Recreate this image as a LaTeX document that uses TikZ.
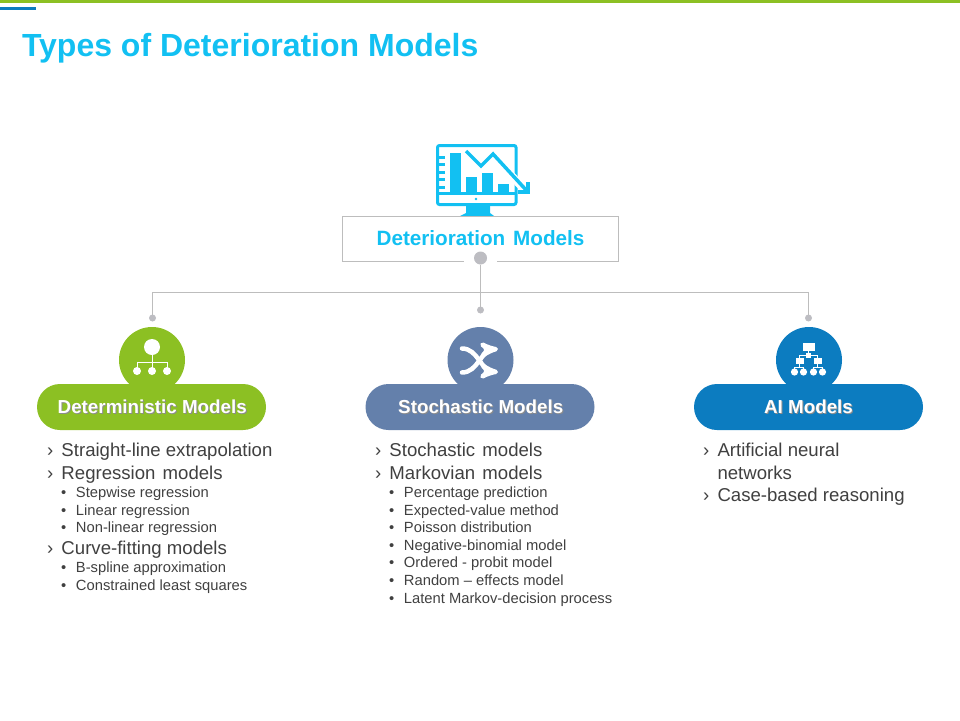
\documentclass[tikz,border=0pt]{standalone}
\usepackage{fontspec}
\setmainfont{Liberation Sans}
\usetikzlibrary{arrows}

\definecolor{detgreen}{HTML}{8CC023}
\definecolor{stochblue}{HTML}{6480AB}
\definecolor{aiblue}{HTML}{0C7CC0}
\definecolor{titlecyan}{HTML}{12C0F2}
\definecolor{linegray}{HTML}{BDBDBD}
\definecolor{dotgray}{HTML}{BDBDC2}
\definecolor{listgray}{HTML}{404040}

\newcommand{\chev}{\makebox[14.5pt][l]{›}}
\newcommand{\bull}{\makebox[15pt][l]{•}}
\newcommand{\shadowed}[1]{\raisebox{-1.5pt}{\makebox[0pt][l]{\hspace{1pt}\raisebox{-1pt}{\textcolor{black!45}{#1}}}#1}}

\begin{document}
\begin{tikzpicture}[x=1pt, y=-1pt, node distance=328.5pt, semithick]
    \tikzstyle{every node}=[inner sep=0pt, outer sep=0pt]
    \tikzstyle{badge}=[circle, minimum size=66pt]
    \tikzstyle{pill}=[rounded corners=23pt, minimum width=229pt, minimum height=46pt,
                      text=white, font=\fontsize{18.8}{20}\selectfont\bfseries]
    \tikzstyle{bigdot}=[circle, fill=dotgray, minimum size=13pt]
    \tikzstyle{smalldot}=[circle, fill=dotgray, minimum size=7pt]
    \tikzstyle{mainitem}=[anchor=base west, text=listgray, font=\fontsize{18.6}{20}\selectfont]
    \tikzstyle{subitem}=[anchor=base west, text=listgray, font=\fontsize{14.75}{16}\selectfont]
    \tikzstyle{icon}=[white, fill=white, draw=none]
    \tikzstyle{screen}=[titlecyan, fill=titlecyan, draw=none]
    \useasboundingbox (0,0) rectangle (960,720);

    % top rules and title
    \fill[detgreen] (0,0) rectangle (960,3);
    \fill[aiblue]   (0,7) rectangle (36,9.5);
    \node[anchor=base west, text=titlecyan, font=\fontsize{32}{34}\selectfont\bfseries]
        (Title) at (22,56) {Types of Deterioration Models};

    % monitor
    \draw[titlecyan, line width=3pt, rounded corners=2pt] (437.5,145.5) rectangle (516,204.5);
    \draw[titlecyan, line width=2.5pt] (437.5,193.5) -- (516,193.5);
    \fill[screen] (466,206) -- (490,206) -- (490,213) -- (494,216) -- (460,216) -- (466,213) -- cycle;
    \fill[screen] (476,199) circle (1.4);
    \fill[screen] (450,153) rectangle (461,193);
    \fill[screen] (466,177) rectangle (477,193);
    \fill[screen] (482,173) rectangle (493,193);
    \fill[screen] (498,184) rectangle (509,193);
    \fill[screen] (438,156) rectangle (445,159);
    \fill[screen] (438,163) rectangle (445,166);
    \fill[screen] (438,170.5) rectangle (445,173.5);
    \fill[screen] (438,177.5) rectangle (445,180.5);
    \fill[screen] (438,185.5) rectangle (445,188.5);
    \draw[white, line width=8pt] (508,172) -- (524,189);
    \draw[titlecyan, line width=3.5pt] (466,151) -- (481,166) -- (493,154) -- (527,191);
    \draw[titlecyan, line width=3.5pt] (528,182) -- (528,192) -- (518,192);

    % root box and branches
    \node[draw=linegray, thin, minimum width=276pt, minimum height=44.5pt, text=titlecyan,
          font=\fontsize{20.7}{22}\selectfont\bfseries]
        (Root) at (480.5,238.5) {Deterioration\hspace{2pt} Models};
    \fill[white] (464,256) rectangle (497,264);
    \node[bigdot]   (RootDot)  at (480.5,258) {};
    \node[smalldot] (StochDot) at (480.5,310) {};
    \node[smalldot] (DetDot)   at (152.5,318) {};
    \node[smalldot] (AIDot)    at (808.5,318) {};
    \coordinate     (Branch)   at (480.5,292.5);

    \draw[linegray, thin] (RootDot) -- (StochDot);
    \draw[linegray, thin] (DetDot) |- (Branch) -| (AIDot);

    % badges and pills
    \node[badge, fill=detgreen]  (DetBadge)   at (152,360)       {};
    \node[badge, fill=stochblue] (StochBadge) [right of=DetBadge]   {};
    \node[badge, fill=aiblue]    (AIBadge)    [right of=StochBadge] {};

    \node[pill, fill=detgreen]   (DetPill)    at (151.5,407)     {\hspace{1.5pt}\shadowed{Deterministic Models}};
    \node[pill, fill=stochblue]  (StochPill)  [right of=DetPill]    {\hspace{1.5pt}\shadowed{Stochastic Models}};
    \node[pill, fill=aiblue]     (AIPill)     [right of=StochPill]  {\shadowed{AI Models}};

    % badge icons
    \fill[icon] (152,347) circle (8);
    \fill[icon] (137,371) circle (4);
    \fill[icon] (152,371) circle (4);
    \fill[icon] (167,371) circle (4);
    \draw[white, thin] (152,347) -- (152,371) (137,371) -- (137,362) -- (167,362) -- (167,371);

    \draw[white, line width=4.5pt, line cap=round, -stealth'] (462,348.5) .. controls (478,348.5) and (481,371) .. (498,372);
    \draw[white, line width=4.5pt, line cap=round, -stealth'] (462,372.5) .. controls (478,372.5) and (481,350) .. (498,349);

    \fill[icon] (802.5,343) rectangle (814.5,351);
    \fill[icon] (806,353) rectangle (811,358);
    \fill[icon] (795.5,358) rectangle (803.5,364);
    \fill[icon] (813.5,358) rectangle (821.5,364);
    \draw[white, thin] (808.5,351) -- (808.5,353) (799.5,358) -- (799.5,355.5) -- (817.5,355.5) -- (817.5,358);
    \draw[white, thin] (794.5,372) -- (794.5,367) -- (803.5,367) -- (803.5,372) (799.5,364) -- (799.5,367);
    \draw[white, thin] (813.5,372) -- (813.5,367) -- (822.5,367) -- (822.5,372) (817.5,364) -- (817.5,367);
    \fill[icon] (794.5,372) circle (3.6);
    \fill[icon] (803.5,372) circle (3.6);
    \fill[icon] (813.5,372) circle (3.6);
    \fill[icon] (822.5,372) circle (3.6);

    % deterministic list
    \node[mainitem] (DetA)  at (47,456.5) {\chev Straight-line extrapolation};
    \node[mainitem] (DetB)  at (47,479.5) {\chev Regression\hspace{2pt} models};
    \node[subitem]  (DetB1) at (61,497.5) {\bull Stepwise regression};
    \node[subitem]  (DetB2) at (61,515.5) {\bull Linear regression};
    \node[subitem]  (DetB3) at (61,532.5) {\bull Non-linear regression};
    \node[mainitem] (DetC)  at (47,554.5) {\chev Curve-fitting models};
    \node[subitem]  (DetC1) at (61,572.5) {\bull B-spline approximation};
    \node[subitem]  (DetC2) at (61,590.5) {\bull Constrained least squares};

    % stochastic list
    \node[mainitem] (StochA)  at (375,456.5) {\chev Stochastic\hspace{2pt} models};
    \node[mainitem] (StochB)  at (375,479.5) {\chev Markovian\hspace{2pt} models};
    \node[subitem]  (StochB1) at (389,497.5) {\bull Percentage prediction};
    \node[subitem]  (StochB2) at (389,515.5) {\bull Expected-value method};
    \node[subitem]  (StochB3) at (389,532.5) {\bull Poisson distribution};
    \node[subitem]  (StochB4) at (389,550.5) {\bull Negative-binomial model};
    \node[subitem]  (StochB5) at (389,567.5) {\bull Ordered - probit model};
    \node[subitem]  (StochB6) at (389,585.5) {\bull Random – effects model};
    \node[subitem]  (StochB7) at (389,603.5) {\bull Latent Markov-decision process};

    % ai list
    \node[mainitem] (AIA)  at (703,456.5) {\chev Artificial neural};
    \node[mainitem] (AIA2) at (717.5,479.5) {networks};
    \node[mainitem] (AIB)  at (703,501.5) {\chev Case-based reasoning};
\end{tikzpicture}
\end{document}
